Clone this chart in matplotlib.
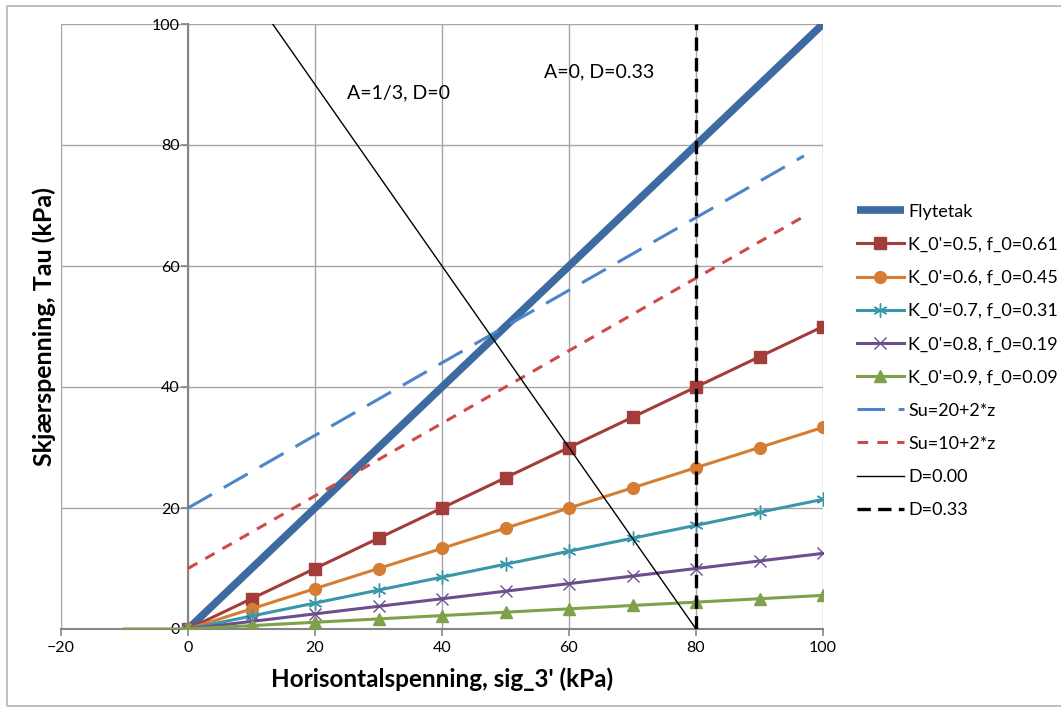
import matplotlib
matplotlib.use('Agg')
import matplotlib.pyplot as plt
from matplotlib.patches import Rectangle

plt.rcParams['font.family'] = ['Lato', 'DejaVu Sans']

# Data
sig3 = [0, 10, 20, 30, 40, 50, 60, 70, 80, 90, 100]
flytetak = [0, 10, 20, 30, 40, 50, 60, 70, 80, 90, 100]
k05 = [0, 5, 10, 15, 20, 25, 30, 35, 40, 45, 50]
k06 = [0, 3.33, 6.67, 10, 13.33, 16.67, 20, 23.33, 26.67, 30, 33.33]
k07 = [0, 2.14, 4.29, 6.43, 8.57, 10.71, 12.86, 15.0, 17.14, 19.29, 21.43]
k08 = [0, 1.25, 2.5, 3.75, 5.0, 6.25, 7.5, 8.75, 10.0, 11.25, 12.5]
sig3_k09 = [-10, 0, 10, 20, 30, 40, 50, 60, 70, 80, 90, 100]
k09 = [0, 0, 0.56, 1.11, 1.67, 2.22, 2.78, 3.33, 3.89, 4.44, 5.0, 5.56]

su_x = [0, 97]
su20 = [20, 78.2]
su10 = [10, 68.2]

d000_x = [13.33, 80]
d000_y = [100, 0]
d033_x = [80, 80]
d033_y = [0, 100]

x_ticks = [-20, 0, 20, 40, 60, 80, 100]
y_ticks = [0, 20, 40, 60, 80, 100]

fig = plt.figure(figsize=(10.61, 7.11), dpi=100)
ax = fig.add_axes([61 / 1061, 82 / 711, 762 / 1061, 605 / 711])

# outer chart border
fig.patches.append(Rectangle((7 / 1061, 5 / 711), 1.0, 700 / 711, transform=fig.transFigure,
                             fill=False, edgecolor='#b4b4b4', linewidth=1.2))

ax.plot(sig3, flytetak, color='#3D6AA0', linewidth=5.5, label='Flytetak', solid_capstyle='butt', zorder=3)
ax.plot(sig3, k05, color='#A33D3A', linewidth=2.2, marker='s', markersize=9,
        label="K_0'=0.5, f_0=0.61", zorder=4)
ax.plot(sig3, k06, color='#D67D34', linewidth=2.2, marker='o', markersize=8.5,
        label="K_0'=0.6, f_0=0.45", zorder=4)
ax.plot(sig3, k07, color='#3A96AA', linewidth=2.2, marker=(6, 2, 0), markersize=10,
        markeredgewidth=1.0, label="K_0'=0.7, f_0=0.31", zorder=4)
ax.plot(sig3, k08, color='#6B4E8E', linewidth=2.2, marker='x', markersize=9,
        markeredgewidth=1.0, label="K_0'=0.8, f_0=0.19", zorder=4)
ax.plot(sig3_k09, k09, color='#7FA14A', linewidth=2.2, marker='^', markersize=9,
        markevery=list(range(1, len(sig3_k09))), label="K_0'=0.9, f_0=0.09", zorder=4)
ax.plot(su_x, su20, color='#4A86C8', linewidth=2.2, dashes=(9, 4.5),
        label='Su=20+2*z', zorder=3)
ax.plot(su_x, su10, color='#CC4A48', linewidth=2.2, dashes=(3.5, 3),
        label='Su=10+2*z', zorder=3)
ax.plot(d000_x, d000_y, color='black', linewidth=1.0, label='D=0.00', zorder=5)
ax.plot(d033_x, d033_y, color='black', linewidth=2.4, dashes=(4, 2.2),
        label='D=0.33', zorder=5)

ax.text(33.2, 88.6, 'A=1/3, D=0', fontsize=14, ha='center', va='center')
ax.text(64.7, 92.1, 'A=0, D=0.33', fontsize=14, ha='center', va='center')

ax.set_xlim(-20, 100)
ax.set_ylim(0, 100)
ax.set_xticks(x_ticks)
ax.set_yticks(y_ticks)
ax.grid(True, color='#a6a6a6', linewidth=1.0, zorder=0)
ax.set_axisbelow(True)

for side in ['top', 'right']:
    ax.spines[side].set_visible(False)
ax.spines['left'].set_position(('data', 0))
ax.spines['left'].set_color('#868686')
ax.spines['left'].set_linewidth(1.5)
ax.spines['bottom'].set_color('#868686')
ax.spines['bottom'].set_linewidth(1.5)
ax.tick_params(axis='both', colors='#868686', labelcolor='black', labelsize=11.5,
               length=5, width=1.2)
ax.tick_params(axis='y', pad=1)

ax.set_xlabel("Horisontalspenning, sig_3' (kPa)", fontsize=17.5, fontweight='bold', labelpad=9)
ax.set_ylabel('Skjærspenning, Tau (kPa)', fontsize=18, fontweight='bold')
ax.yaxis.set_label_coords(-0.006, 0.5)

ax.legend(loc='upper left', bbox_to_anchor=(1.035, 0.715), frameon=False, fontsize=13,
          handlelength=2.6, handletextpad=0.25, labelspacing=0.95, borderaxespad=0)

fig.savefig('out.png', dpi=100)
